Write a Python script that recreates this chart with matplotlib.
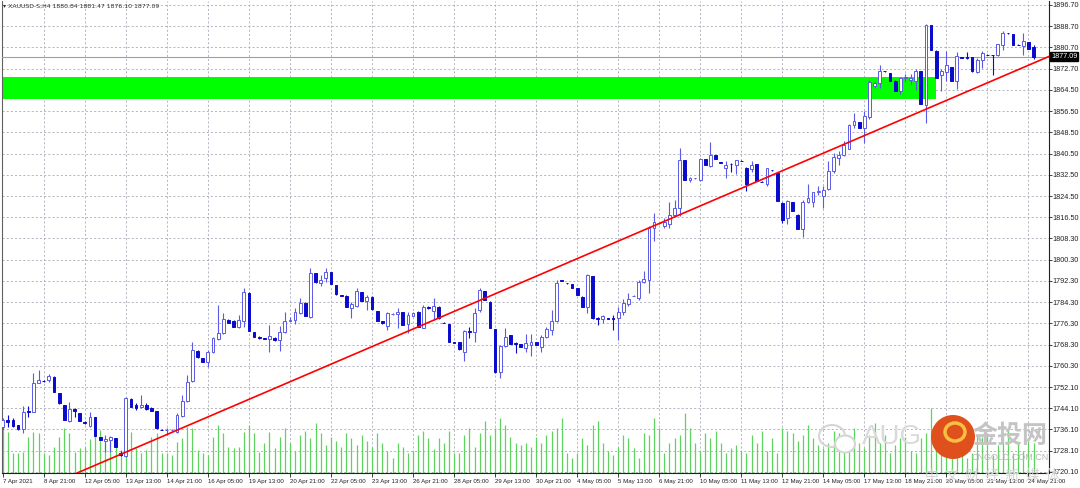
import matplotlib.pyplot as plt
import matplotlib.transforms as mtransforms
from matplotlib.patches import Rectangle, Ellipse

plt.rcParams['font.family'] = ['Liberation Sans Narrow', 'Liberation Sans', 'DejaVu Sans']

header = "XAUUSD-S,H4 1880.84 1881.47 1876.10 1877.09"

opens = [
    1737.2, 1739.9, 1739.7, 1737.8, 1736.2, 1743.1, 1742.9, 1753.6, 1754.5, 1754.9,
    1756.1, 1749.8, 1745.4, 1739.4, 1743.8, 1742.5, 1739.0, 1737.5, 1741.0, 1733.4,
    1731.8, 1732.2, 1732.8, 1727.4, 1726.1, 1747.5, 1745.4, 1744.8, 1745.4, 1744.1,
    1743.1, 1736.1, 1735.8, 1736.0, 1735.3, 1741.3, 1746.8, 1754.5, 1766.0, 1763.1,
    1761.8, 1765.6, 1770.3, 1772.5, 1777.6, 1777.0, 1774.8, 1777.3, 1787.9, 1773.1,
    1771.3, 1770.6, 1770.4, 1770.9, 1770.0, 1772.9, 1777.3, 1777.6, 1780.1, 1784.1,
    1778.8, 1795.2, 1791.4, 1793.6, 1795.6, 1790.8, 1787.0, 1786.8, 1782.0, 1783.0,
    1788.0, 1784.8, 1786.4, 1781.0, 1777.2, 1775.3, 1779.7, 1779.7, 1780.5, 1775.9,
    1779.2, 1780.7, 1774.7, 1782.6, 1781.1, 1782.6, 1776.6, 1776.1, 1769.2, 1769.1,
    1765.6, 1773.4, 1773.2, 1781.4, 1788.5, 1784.5, 1774.2, 1757.8, 1767.9, 1771.9,
    1768.8, 1768.3, 1767.1, 1768.1, 1769.1, 1767.5, 1771.2, 1773.8, 1777.2, 1792.5,
    1791.5, 1791.0, 1789.5, 1786.4, 1782.6, 1794.2, 1778.4, 1777.9, 1778.2, 1778.4,
    1778.2, 1780.7, 1783.6, 1786.7, 1786.0, 1791.8, 1792.7, 1812.5, 1814.1, 1813.2,
    1813.7, 1817.3, 1819.8, 1838.1, 1830.4, 1831.1, 1830.5, 1838.5, 1835.8, 1840.0,
    1837.2, 1835.2, 1836.5, 1836.2, 1837.8, 1835.2, 1834.7, 1836.4, 1829.9, 1828.9,
    1834.3, 1833.3, 1821.8, 1816.1, 1822.2, 1817.4, 1812.1, 1822.2, 1822.2, 1825.8,
    1824.4, 1827.2, 1833.8, 1838.9, 1839.8, 1842.4, 1851.2, 1852.4, 1850.2, 1854.2,
    1866.0, 1867.2, 1871.7, 1871.0, 1868.1, 1864.1, 1869.0, 1868.3, 1867.8, 1871.6,
    1858.8, 1889.0, 1879.4, 1870.1, 1871.4, 1873.1, 1868.1, 1876.9, 1876.9, 1876.9,
    1871.4, 1876.0, 1877.9, 1877.7, 1877.7, 1881.7, 1886.1, 1885.7, 1881.7, 1881.1,
    1882.7, 1880.84]

highs = [
    1740.4, 1741.6, 1740.4, 1738.0, 1745.0, 1745.0, 1757.4, 1758.7, 1754.7, 1757.0,
    1756.4, 1749.8, 1745.4, 1746.7, 1744.2, 1742.5, 1739.2, 1742.9, 1741.0, 1733.4,
    1734.0, 1733.7, 1733.0, 1728.0, 1748.6, 1748.0, 1746.0, 1749.2, 1746.0, 1744.5,
    1743.3, 1736.3, 1736.6, 1736.2, 1742.5, 1749.2, 1756.8, 1769.4, 1766.2, 1763.3,
    1766.2, 1771.3, 1783.2, 1780.1, 1777.8, 1777.5, 1779.5, 1789.5, 1788.0, 1773.2,
    1771.4, 1770.8, 1775.7, 1771.2, 1775.4, 1780.7, 1778.8, 1782.0, 1785.8, 1784.3,
    1797.4, 1795.5, 1794.6, 1797.4, 1795.8, 1790.9, 1787.2, 1786.9, 1784.5, 1789.8,
    1788.1, 1787.0, 1786.5, 1781.1, 1777.3, 1780.7, 1780.3, 1782.0, 1780.6, 1780.7,
    1780.6, 1780.8, 1783.3, 1782.7, 1785.8, 1782.7, 1776.7, 1776.2, 1769.3, 1769.2,
    1773.8, 1775.0, 1782.0, 1789.8, 1788.6, 1784.6, 1774.3, 1768.1, 1774.4, 1772.0,
    1769.1, 1768.4, 1772.1, 1772.1, 1769.2, 1771.9, 1775.0, 1781.3, 1792.7, 1792.6,
    1791.6, 1791.1, 1789.6, 1786.5, 1794.8, 1794.3, 1778.8, 1779.4, 1778.3, 1779.4,
    1782.6, 1785.5, 1787.6, 1787.0, 1792.7, 1796.1, 1813.2, 1817.9, 1814.3, 1816.0,
    1822.0, 1823.0, 1842.7, 1838.2, 1831.5, 1831.3, 1838.7, 1838.6, 1845.0, 1840.1,
    1837.3, 1837.7, 1836.8, 1838.1, 1838.0, 1835.4, 1837.7, 1836.5, 1830.0, 1835.2,
    1834.4, 1833.4, 1822.2, 1823.1, 1822.3, 1817.5, 1823.1, 1829.0, 1826.0, 1828.1,
    1828.1, 1837.6, 1840.7, 1841.4, 1845.1, 1851.7, 1855.9, 1852.5, 1856.5, 1868.5,
    1867.8, 1873.9, 1871.8, 1871.1, 1868.2, 1869.4, 1870.5, 1870.5, 1872.3, 1871.7,
    1889.5, 1889.1, 1879.5, 1872.3, 1879.4, 1873.2, 1878.9, 1877.0, 1878.9, 1877.0,
    1876.7, 1879.4, 1878.0, 1877.9, 1882.0, 1887.0, 1886.2, 1885.8, 1881.8, 1886.1,
    1882.8, 1881.47]

lows = [
    1736.0, 1737.0, 1737.2, 1736.0, 1734.7, 1741.0, 1742.7, 1753.6, 1754.3, 1754.2,
    1750.2, 1745.9, 1739.7, 1739.1, 1741.0, 1739.5, 1738.3, 1737.1, 1733.7, 1732.2,
    1727.8, 1727.8, 1729.4, 1726.0, 1725.9, 1744.7, 1743.5, 1744.2, 1743.5, 1743.0,
    1736.5, 1735.8, 1734.0, 1735.7, 1734.7, 1741.0, 1746.5, 1754.2, 1763.3, 1761.7,
    1759.7, 1765.0, 1770.0, 1772.3, 1776.5, 1774.9, 1774.4, 1775.0, 1773.5, 1771.2,
    1770.4, 1770.2, 1765.3, 1769.8, 1765.8, 1772.5, 1777.0, 1775.9, 1779.7, 1779.0,
    1778.2, 1791.6, 1790.6, 1792.1, 1791.1, 1787.2, 1786.6, 1782.3, 1778.2, 1782.6,
    1784.7, 1781.4, 1781.5, 1777.1, 1776.2, 1773.8, 1779.4, 1774.7, 1775.6, 1772.5,
    1778.9, 1774.9, 1774.4, 1781.9, 1777.6, 1778.1, 1776.3, 1769.3, 1768.9, 1766.4,
    1762.1, 1770.6, 1769.4, 1780.7, 1785.0, 1774.6, 1757.7, 1755.5, 1767.5, 1768.3,
    1765.0, 1767.4, 1765.6, 1764.0, 1768.0, 1765.6, 1770.6, 1771.9, 1776.9, 1792.2,
    1791.3, 1789.7, 1786.9, 1782.5, 1780.1, 1778.1, 1775.7, 1776.3, 1778.1, 1773.8,
    1770.0, 1779.5, 1783.0, 1786.5, 1785.1, 1791.4, 1787.6, 1807.4, 1813.9, 1812.2,
    1812.5, 1816.6, 1817.0, 1830.4, 1829.8, 1830.9, 1830.3, 1836.1, 1835.6, 1838.5,
    1836.9, 1831.1, 1833.7, 1832.7, 1837.6, 1826.4, 1833.7, 1830.0, 1829.6, 1828.4,
    1834.0, 1822.6, 1814.3, 1813.9, 1818.6, 1812.0, 1808.8, 1821.8, 1820.2, 1825.0,
    1819.9, 1826.9, 1833.2, 1836.3, 1839.5, 1842.1, 1850.2, 1850.1, 1844.5, 1853.7,
    1865.3, 1865.3, 1871.5, 1868.0, 1864.2, 1863.0, 1867.5, 1866.6, 1864.7, 1859.2,
    1852.1, 1879.7, 1869.0, 1864.3, 1867.8, 1868.0, 1865.1, 1876.7, 1876.4, 1871.5,
    1871.0, 1872.9, 1877.7, 1870.4, 1877.3, 1879.8, 1885.9, 1881.6, 1881.5, 1877.7,
    1880.1, 1876.10]

closes = [
    1739.7, 1739.0, 1737.5, 1736.3, 1742.9, 1742.8, 1753.6, 1754.9, 1754.4, 1756.4,
    1750.5, 1746.0, 1739.7, 1743.8, 1743.3, 1739.5, 1738.7, 1741.0, 1733.7, 1732.2,
    1732.5, 1733.4, 1729.6, 1726.5, 1747.9, 1744.8, 1744.2, 1745.4, 1743.8, 1743.3,
    1736.6, 1736.0, 1735.9, 1736.1, 1741.6, 1747.0, 1754.2, 1766.2, 1763.4, 1761.8,
    1765.6, 1770.6, 1772.5, 1777.8, 1776.6, 1775.0, 1777.6, 1788.3, 1773.5, 1771.3,
    1770.6, 1770.3, 1771.5, 1770.0, 1773.2, 1777.3, 1777.4, 1780.7, 1784.1, 1779.1,
    1795.5, 1791.8, 1792.7, 1795.6, 1791.2, 1787.3, 1786.8, 1782.4, 1783.6, 1788.5,
    1784.8, 1786.3, 1781.6, 1777.2, 1776.3, 1780.1, 1779.9, 1780.7, 1775.7, 1779.5,
    1780.3, 1775.0, 1782.6, 1782.0, 1783.0, 1778.2, 1776.4, 1769.4, 1769.0, 1766.5,
    1773.4, 1772.9, 1780.1, 1788.9, 1785.1, 1774.7, 1757.8, 1767.9, 1771.0, 1768.4,
    1768.6, 1767.5, 1768.7, 1769.4, 1768.1, 1771.2, 1774.2, 1777.2, 1791.7, 1792.3,
    1791.4, 1789.8, 1787.0, 1782.6, 1794.6, 1778.2, 1777.9, 1779.1, 1778.1, 1777.9,
    1780.7, 1783.9, 1785.5, 1786.8, 1792.0, 1793.0, 1812.5, 1814.5, 1814.2, 1814.5,
    1817.3, 1819.8, 1838.1, 1830.5, 1831.1, 1831.2, 1838.5, 1836.2, 1839.9, 1838.6,
    1837.0, 1836.2, 1836.4, 1838.1, 1837.7, 1828.9, 1836.2, 1830.1, 1829.7, 1834.9,
    1834.1, 1822.7, 1815.5, 1822.7, 1818.7, 1812.1, 1822.2, 1823.7, 1826.0, 1826.5,
    1826.9, 1833.8, 1839.1, 1840.1, 1843.9, 1851.4, 1852.7, 1850.2, 1854.6, 1867.6,
    1867.2, 1871.9, 1871.6, 1868.1, 1864.3, 1869.1, 1869.3, 1869.1, 1871.6, 1859.3,
    1889.0, 1879.8, 1869.1, 1871.9, 1873.9, 1868.1, 1877.3, 1876.8, 1876.8, 1871.6,
    1876.0, 1878.6, 1877.8, 1877.6, 1882.0, 1886.1, 1886.0, 1881.7, 1881.6, 1883.0,
    1880.2, 1877.09]

# tick volume per bar
volumes = [
    21500, 20500, 10000, 10000, 10500, 18000, 20500, 20000, 10000, 9000,
    13000, 18000, 22500, 20000, 10500, 12500, 13000, 17000, 19000, 21500,
    15000, 18000, 17500, 11500, 24000, 20500, 12500, 10000, 11500, 18000,
    20000, 10000, 10000, 9000, 15500, 17500, 23000, 22500, 11500, 10000,
    9000, 18000, 24000, 20000, 13000, 12500, 13000, 20500, 24000, 20000,
    10500, 15000, 20500, 12500, 18000, 22500, 15000, 11000, 19000, 21000,
    17500, 25000, 20000, 14000, 18000, 16000, 13000, 20000, 17500, 14000,
    19000, 16000, 13000, 20000, 15000, 11000, 7500, 15000, 13000, 10000,
    11000, 19000, 21000, 17500, 12000, 17500, 15000, 21000, 10000, 10000,
    19000, 22500, 13000, 20000, 26000, 19000, 22500, 27500, 24000, 18000,
    15000, 14000, 15000, 13000, 18000, 15000, 19000, 21000, 22500, 27500,
    10000, 7500, 10000, 17500, 14000, 24000, 26000, 15000, 11000, 9000,
    13000, 19000, 17500, 12500, 7500, 20000, 19000, 27500, 22500, 10000,
    15000, 17500, 19000, 30000, 22500, 15000, 11000, 20000, 17500, 21000,
    15000, 10000, 12500, 14000, 11000, 10000, 19000, 15000, 21000, 11000,
    17500, 10000, 22500, 21000, 20000, 16000, 19000, 24000, 17500, 14000,
    12500, 15000, 21000, 20000, 17500, 19000, 22500, 15000, 12500, 19000,
    25000, 15000, 19000, 10000, 14000, 17500, 18000, 11000, 10000, 17500,
    20000, 32500, 25000, 22500, 17500, 20000, 16000, 22500, 7500, 10000,
    19000, 18000, 20000, 9000, 14000, 20000, 22500, 10000, 15000, 11000,
    17500, 15000]

time_ticks = list(range(0, 201, 8))
time_labels = [
    "7 Apr 2021", "8 Apr 21:00", "12 Apr 05:00", "13 Apr 13:00", "14 Apr 21:00",
    "16 Apr 05:00", "19 Apr 13:00", "20 Apr 21:00", "22 Apr 05:00", "23 Apr 13:00",
    "26 Apr 21:00", "28 Apr 05:00", "29 Apr 13:00", "30 Apr 21:00", "4 May 05:00",
    "5 May 13:00", "6 May 21:00", "10 May 05:00", "11 May 13:00", "12 May 21:00",
    "14 May 05:00", "17 May 13:00", "18 May 21:00", "20 May 05:00", "21 May 13:00",
    "24 May 21:00"]

price_labels = [
    "1720.10", "1728.10", "1736.10", "1744.10", "1752.10", "1760.30", "1768.30",
    "1776.30", "1784.30", "1792.30", "1800.30", "1808.30", "1816.50", "1824.50",
    "1832.50", "1840.50", "1848.50", "1856.50", "1864.50", "1872.70", "1880.70",
    "1888.70", "1896.70"]
price_ticks = [1720.1 + k * (1896.7 - 1720.1) / 22 for k in range(23)]

zone_low, zone_high = 1861.3, 1869.4
zone_end = 181.9
trend_x = [14.5, 204.2]
trend_y = [1719.7, 1877.4]
bid = 1877.09

fig = plt.figure(figsize=(10.8, 4.88), dpi=100)
fig.patch.set_facecolor('white')
ax = fig.add_axes([2 / 1080, 15 / 488, 1047 / 1080, 472 / 488])
ax.set_xlim(-0.14, 204.0)
ax.set_ylim(1719.7, 1898.2)

n = len(opens)
idx = list(range(n))

# grid
grid_kw = dict(color='#a9abb8', lw=0.6, ls=(0, (2.5, 2.5)), zorder=0)
for p in price_ticks:
    ax.axhline(p, **grid_kw)
for t in time_ticks[1:]:
    ax.axvline(t, **grid_kw)

# volumes along the bottom
trans = mtransforms.blended_transform_factory(ax.transData, ax.transAxes)
vmax = max(volumes)
ax.vlines(idx, 0, [v / vmax * 0.138 for v in volumes], transform=trans,
          color='#5fd35f', lw=0.9, zorder=1)

# green zone
ax.add_patch(Rectangle((-1, zone_low), zone_end + 1, zone_high - zone_low,
                       facecolor='#00ff00', edgecolor='none', zorder=2))

ax.axhline(bid, color='#a0a0a0', lw=0.8, zorder=3)

# candles
bull_col = '#5a5ae6'
bear_col = '#0a0acd'
for i in idx:
    o, h, l, c = opens[i], highs[i], lows[i], closes[i]
    up = c >= o
    ax.vlines(i, l, h, color=bull_col if up else bear_col, lw=0.8, zorder=4)
    ax.add_patch(Rectangle((i - 0.27, min(o, c)), 0.54, max(abs(c - o), 0.12),
                           facecolor='white' if up else bear_col,
                           edgecolor=bull_col if up else bear_col,
                           lw=0.7, zorder=5))

ax.plot(trend_x, trend_y, color='#ff0000', lw=1.2, zorder=6)

# axes styling
ax.spines['top'].set_visible(False)
ax.spines['left'].set_color('#606060')
ax.spines['right'].set_color('#202020')
ax.spines['bottom'].set_color('#202020')
for s in ['left', 'right', 'bottom']:
    ax.spines[s].set_linewidth(0.8)

ax.yaxis.tick_right()
ax.set_yticks(price_ticks, price_labels)
ax.set_xticks(time_ticks, time_labels, ha='left')
ax.tick_params(axis='y', labelsize=5.2, length=2, width=0.6, pad=0.8,
               colors='#202020')
ax.tick_params(axis='x', labelsize=4.4, length=3, width=0.6, pad=1.5,
               colors='#202020')

blend_y = mtransforms.blended_transform_factory(ax.transAxes, ax.transData)
ax.text(1.002, bid, "1877.09", transform=blend_y, color='white', fontsize=5.2,
        va='center', ha='left', zorder=10,
        bbox=dict(facecolor='black', edgecolor='black', pad=0.6))

fig.text(3 / 1080, 1 - 6 / 488, "\u25be " + header, fontsize=4.4,
         color='#303030', va='center', ha='left',
         family=['Liberation Sans Narrow', 'DejaVu Sans'])

# watermark
fig.patches.append(Ellipse((832 / 1080, 1 - 436 / 488), 26 / 1080, 22 / 488,
                           transform=fig.transFigure, facecolor='none',
                           edgecolor='#d6d6d6', lw=1.5, zorder=20))
fig.patches.append(Ellipse((845 / 1080, 1 - 444 / 488), 20 / 1080, 17 / 488,
                           transform=fig.transFigure, facecolor='white',
                           edgecolor='#d6d6d6', lw=1.5, zorder=20))
fig.text(892 / 1080, 1 - 437 / 488, "AUG", fontsize=20, color='#dadada',
         ha='center', va='center', family=['Liberation Sans', 'DejaVu Sans'],
         zorder=21)
fig.patches.append(Ellipse((953 / 1080, 1 - 437 / 488), 44 / 1080, 44 / 488,
                           transform=fig.transFigure, facecolor='#e0501c',
                           edgecolor='none', zorder=22))
fig.patches.append(Ellipse((955 / 1080, 1 - 432 / 488), 20 / 1080, 18 / 488,
                           transform=fig.transFigure, facecolor='none',
                           edgecolor='#f6c042', lw=2.5, zorder=23))
fig.text(1010 / 1080, 1 - 436 / 488, "金投网", fontsize=18, color='#c4c4c4',
         ha='center', va='center', fontweight='bold',
         family=['Noto Sans CJK SC', 'DejaVu Sans'], zorder=24)
fig.text(1010 / 1080, 1 - 458 / 488, "CNGOLD.COM.CN", fontsize=6.5,
         color='#b8b8b8', ha='center', va='center',
         family=['Liberation Sans', 'DejaVu Sans'], zorder=24)
fig.text(992 / 1080, 1 - 476 / 488, "中  文  财  经  新  媒  体", fontsize=10,
         color='#d4d4d4', ha='center', va='center',
         family=['Noto Sans CJK SC', 'DejaVu Sans'], zorder=24)

fig.savefig('out.png', dpi=100)
